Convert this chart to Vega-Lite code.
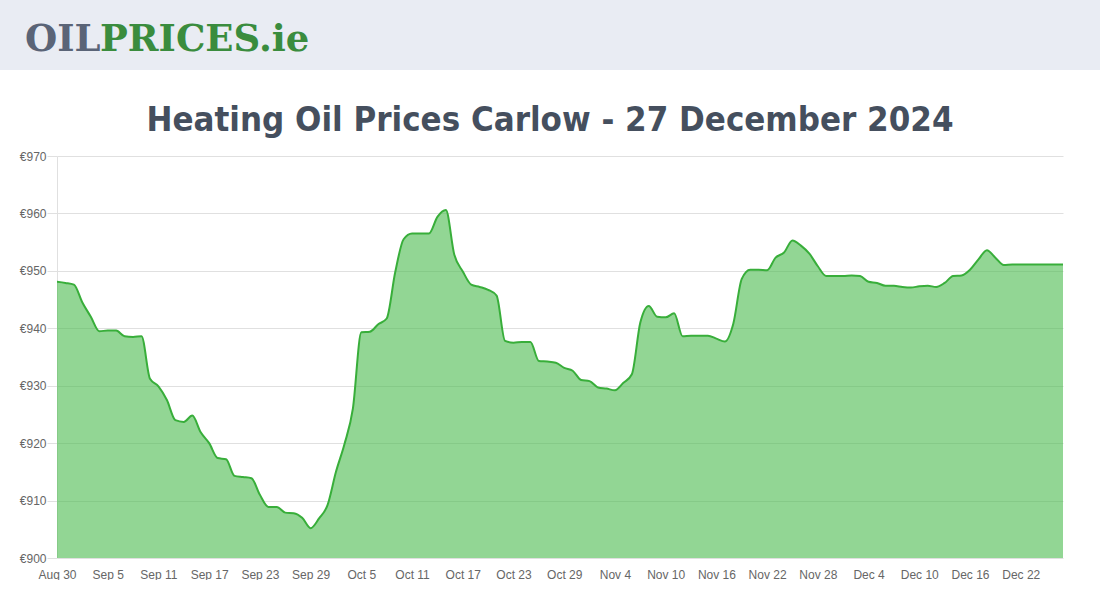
{
  "$schema": "https://vega.github.io/schema/vega-lite/v6.json",
  "background": "#ffffff",
  "padding": 0,
  "spacing": 32,
  "config": {"view": {"stroke": null}, "font": "Liberation Sans"},
  "vconcat": [
    {
      "width": 1100,
      "height": 70,
      "view": {"fill": "#e9ecf3", "stroke": null},
      "layer": [
        {
          "data": {"values": [{"t": "OIL"}]},
          "mark": {"type": "text", "x": 25, "y": 51, "align": "left", "baseline": "alphabetic", "font": "DejaVu Serif", "fontWeight": "bold", "fontSize": 37, "color": "#5a6477"},
          "encoding": {"text": {"field": "t"}}
        },
        {
          "data": {"values": [{"t": "PRICES.ie"}]},
          "mark": {"type": "text", "x": 100, "y": 51, "align": "left", "baseline": "alphabetic", "font": "DejaVu Serif", "fontWeight": "bold", "fontSize": 37, "color": "#3a8c3e"},
          "encoding": {"text": {"field": "t"}}
        }
      ]
    },
    {
      "spacing": 0,
      "hconcat": [
        {
          "width": 1,
          "height": 402,
          "data": {"values": [{"t": ""}]},
          "mark": {"type": "text"},
          "encoding": {"text": {"field": "t"}}
        },
        {
          "width": 1006,
          "height": 402,
          "title": {"text": "Heating Oil Prices Carlow - 27 December 2024", "font": "DejaVu Sans Condensed", "fontWeight": "bold", "fontSize": 34.5, "color": "#454f5e", "anchor": "middle", "dx": -10, "offset": 12},
          "data": {"values": [
            {"date": "2024-08-30", "price": 948.1},
            {"date": "2024-08-31", "price": 947.9},
            {"date": "2024-09-01", "price": 947.6},
            {"date": "2024-09-02", "price": 944.5},
            {"date": "2024-09-03", "price": 942.0},
            {"date": "2024-09-04", "price": 939.5},
            {"date": "2024-09-05", "price": 939.6},
            {"date": "2024-09-06", "price": 939.6},
            {"date": "2024-09-07", "price": 938.6},
            {"date": "2024-09-08", "price": 938.5},
            {"date": "2024-09-09", "price": 938.6},
            {"date": "2024-09-10", "price": 931.2},
            {"date": "2024-09-11", "price": 929.9},
            {"date": "2024-09-12", "price": 927.5},
            {"date": "2024-09-13", "price": 924.0},
            {"date": "2024-09-14", "price": 923.7},
            {"date": "2024-09-15", "price": 924.8},
            {"date": "2024-09-16", "price": 921.9},
            {"date": "2024-09-17", "price": 920.0},
            {"date": "2024-09-18", "price": 917.4},
            {"date": "2024-09-19", "price": 917.2},
            {"date": "2024-09-20", "price": 914.3},
            {"date": "2024-09-21", "price": 914.1},
            {"date": "2024-09-22", "price": 913.9},
            {"date": "2024-09-23", "price": 911.0},
            {"date": "2024-09-24", "price": 908.9},
            {"date": "2024-09-25", "price": 908.9},
            {"date": "2024-09-26", "price": 907.9},
            {"date": "2024-09-27", "price": 907.8},
            {"date": "2024-09-28", "price": 907.0},
            {"date": "2024-09-29", "price": 905.2},
            {"date": "2024-09-30", "price": 906.9},
            {"date": "2024-10-01", "price": 909.2},
            {"date": "2024-10-02", "price": 915.0},
            {"date": "2024-10-03", "price": 919.8},
            {"date": "2024-10-04", "price": 926.0},
            {"date": "2024-10-05", "price": 939.3},
            {"date": "2024-10-06", "price": 939.4},
            {"date": "2024-10-07", "price": 940.7},
            {"date": "2024-10-08", "price": 941.7},
            {"date": "2024-10-09", "price": 949.7},
            {"date": "2024-10-10", "price": 955.5},
            {"date": "2024-10-11", "price": 956.5},
            {"date": "2024-10-12", "price": 956.5},
            {"date": "2024-10-13", "price": 956.5},
            {"date": "2024-10-14", "price": 959.4},
            {"date": "2024-10-15", "price": 960.6},
            {"date": "2024-10-16", "price": 952.8},
            {"date": "2024-10-17", "price": 949.9},
            {"date": "2024-10-18", "price": 947.6},
            {"date": "2024-10-19", "price": 947.2},
            {"date": "2024-10-20", "price": 946.7},
            {"date": "2024-10-21", "price": 945.7},
            {"date": "2024-10-22", "price": 937.8},
            {"date": "2024-10-23", "price": 937.5},
            {"date": "2024-10-24", "price": 937.6},
            {"date": "2024-10-25", "price": 937.6},
            {"date": "2024-10-26", "price": 934.3},
            {"date": "2024-10-27", "price": 934.2},
            {"date": "2024-10-28", "price": 934.0},
            {"date": "2024-10-29", "price": 933.1},
            {"date": "2024-10-30", "price": 932.6},
            {"date": "2024-10-31", "price": 931.0},
            {"date": "2024-11-01", "price": 930.8},
            {"date": "2024-11-02", "price": 929.7},
            {"date": "2024-11-03", "price": 929.5},
            {"date": "2024-11-04", "price": 929.2},
            {"date": "2024-11-05", "price": 930.5},
            {"date": "2024-11-06", "price": 932.0},
            {"date": "2024-11-07", "price": 941.0},
            {"date": "2024-11-08", "price": 943.9},
            {"date": "2024-11-09", "price": 942.0},
            {"date": "2024-11-10", "price": 941.9},
            {"date": "2024-11-11", "price": 942.6},
            {"date": "2024-11-12", "price": 938.6},
            {"date": "2024-11-13", "price": 938.7},
            {"date": "2024-11-14", "price": 938.7},
            {"date": "2024-11-15", "price": 938.7},
            {"date": "2024-11-16", "price": 938.2},
            {"date": "2024-11-17", "price": 937.7},
            {"date": "2024-11-18", "price": 940.8},
            {"date": "2024-11-19", "price": 948.6},
            {"date": "2024-11-20", "price": 950.2},
            {"date": "2024-11-21", "price": 950.2},
            {"date": "2024-11-22", "price": 950.1},
            {"date": "2024-11-23", "price": 952.3},
            {"date": "2024-11-24", "price": 953.2},
            {"date": "2024-11-25", "price": 955.3},
            {"date": "2024-11-26", "price": 954.4},
            {"date": "2024-11-27", "price": 953.0},
            {"date": "2024-11-28", "price": 950.8},
            {"date": "2024-11-29", "price": 949.1},
            {"date": "2024-11-30", "price": 949.1},
            {"date": "2024-12-01", "price": 949.1},
            {"date": "2024-12-02", "price": 949.2},
            {"date": "2024-12-03", "price": 949.1},
            {"date": "2024-12-04", "price": 948.1},
            {"date": "2024-12-05", "price": 947.9},
            {"date": "2024-12-06", "price": 947.4},
            {"date": "2024-12-07", "price": 947.4},
            {"date": "2024-12-08", "price": 947.2},
            {"date": "2024-12-09", "price": 947.1},
            {"date": "2024-12-10", "price": 947.3},
            {"date": "2024-12-11", "price": 947.4},
            {"date": "2024-12-12", "price": 947.2},
            {"date": "2024-12-13", "price": 947.9},
            {"date": "2024-12-14", "price": 949.1},
            {"date": "2024-12-15", "price": 949.2},
            {"date": "2024-12-16", "price": 950.2},
            {"date": "2024-12-17", "price": 952.0},
            {"date": "2024-12-18", "price": 953.6},
            {"date": "2024-12-19", "price": 952.3},
            {"date": "2024-12-20", "price": 951.0},
            {"date": "2024-12-21", "price": 951.1},
            {"date": "2024-12-22", "price": 951.1},
            {"date": "2024-12-23", "price": 951.1},
            {"date": "2024-12-24", "price": 951.1},
            {"date": "2024-12-25", "price": 951.1},
            {"date": "2024-12-26", "price": 951.1},
            {"date": "2024-12-27", "price": 951.1}
          ]},
          "encoding": {
            "x": {
              "field": "date", "type": "temporal", "title": null,
              "scale": {"type": "utc", "nice": false},
              "axis": {
                "values": [
                  {"year": 2024, "month": 8, "date": 30, "utc": true},
                  {"year": 2024, "month": 9, "date": 5, "utc": true},
                  {"year": 2024, "month": 9, "date": 11, "utc": true},
                  {"year": 2024, "month": 9, "date": 17, "utc": true},
                  {"year": 2024, "month": 9, "date": 23, "utc": true},
                  {"year": 2024, "month": 9, "date": 29, "utc": true},
                  {"year": 2024, "month": 10, "date": 5, "utc": true},
                  {"year": 2024, "month": 10, "date": 11, "utc": true},
                  {"year": 2024, "month": 10, "date": 17, "utc": true},
                  {"year": 2024, "month": 10, "date": 23, "utc": true},
                  {"year": 2024, "month": 10, "date": 29, "utc": true},
                  {"year": 2024, "month": 11, "date": 4, "utc": true},
                  {"year": 2024, "month": 11, "date": 10, "utc": true},
                  {"year": 2024, "month": 11, "date": 16, "utc": true},
                  {"year": 2024, "month": 11, "date": 22, "utc": true},
                  {"year": 2024, "month": 11, "date": 28, "utc": true},
                  {"year": 2024, "month": 12, "date": 4, "utc": true},
                  {"year": 2024, "month": 12, "date": 10, "utc": true},
                  {"year": 2024, "month": 12, "date": 16, "utc": true},
                  {"year": 2024, "month": 12, "date": 22, "utc": true}
                ],
                "labelExpr": "utcFormat(datum.value, '%b %-d')",
                "labelFont": "Liberation Sans", "labelFontSize": 12, "labelColor": "#666666",
                "labelPadding": 11, "ticks": false, "domain": false, "grid": false,
                "labelOverlap": false, "labelFlush": false
              }
            },
            "y": {
              "field": "price", "type": "quantitative", "title": null,
              "scale": {"domain": [900, 970], "nice": false, "zero": false},
              "axis": {
                "values": [900, 910, 920, 930, 940, 950, 960, 970],
                "labelExpr": "'€' + datum.value",
                "labelFont": "Liberation Sans", "labelFontSize": 12, "labelColor": "#666666",
                "labelPadding": 1, "tickSize": 10, "tickColor": "#e0e0e0",
                "gridColor": "#e0e0e0", "domainColor": "#e0e0e0", "minExtent": 56
              }
            }
          },
          "layer": [
            {"mark": {"type": "area", "interpolate": "monotone", "color": "#49bb4d", "opacity": 0.6, "clip": true}},
            {"mark": {"type": "line", "interpolate": "monotone", "color": "#38ae3a", "strokeWidth": 2, "clip": true}}
          ]
        }
      ]
    }
  ]
}
